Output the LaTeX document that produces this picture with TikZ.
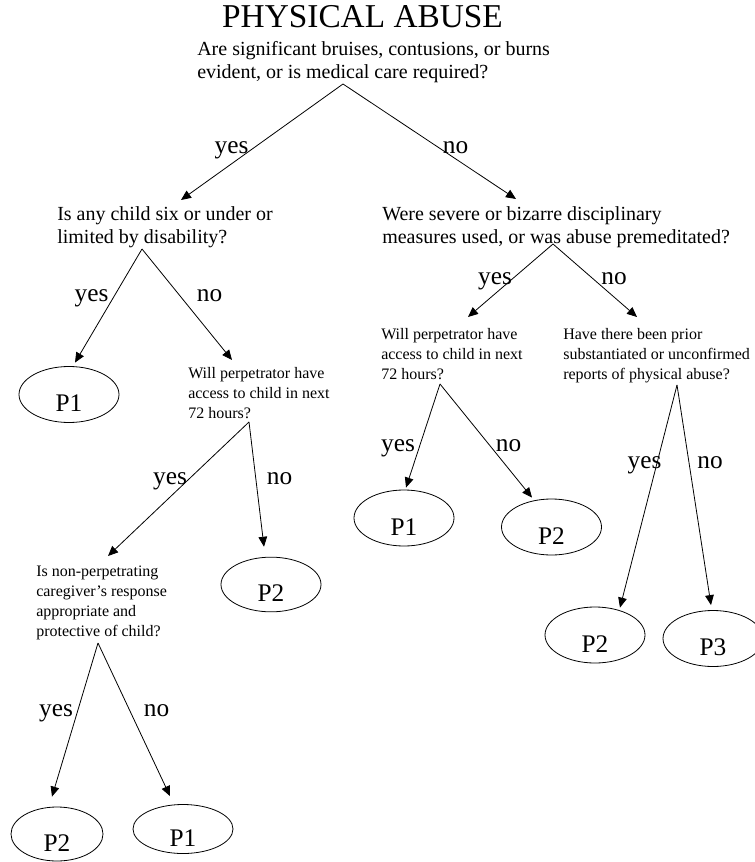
\documentclass[tikz,border=0pt]{standalone}
\usepackage{fontspec}
\setmainfont{Liberation Serif}
\usetikzlibrary{arrows.meta,shapes.geometric}

\tikzset{
  ask/.style={align=left, inner sep=0pt, anchor=north west, font=\fontsize{15}{17.25}\selectfont},
  asksmall/.style={ask, font=\fontsize{12}{15}\selectfont},
  leaf/.style={ellipse, draw, line width=0.6pt, inner sep=0pt, minimum width=75pt, minimum height=42pt,
    text height=26pt, text depth=0pt, font=\fontsize{19}{22}\selectfont},
  ans/.style={anchor=base, inner sep=0pt, font=\fontsize{19}{22}\selectfont},
  arr/.style={-{Triangle[length=7.5pt,width=6.5pt]}, line width=0.6pt},
}

\begin{document}
\begin{tikzpicture}[x=0.75pt, y=0.75pt]
  % page
  \useasboundingbox (0,0) rectangle (755,-862);

  % title
  \node[anchor=base, inner sep=0pt, font=\fontsize{25}{30}\selectfont] (title) at (362.5,-28) {PHYSICAL ABUSE};

  % questions
  \node[ask] (q1) at (197,-41) {Are significant bruises, contusions, or burns\\evident, or is medical care required?};
  \node[ask] (q2l) at (57,-206) {Is any child six or under or\\limited by disability?};
  \node[ask] (q2r) at (382,-206) {Were severe or bizarre disciplinary\\measures used, or was abuse premeditated?};
  \node[asksmall] (q3l) at (188,-367) {Will perpetrator have\\access to child in next\\72 hours?};
  \node[asksmall] (q3a) at (381,-328) {Will perpetrator have\\access to child in next\\72 hours?};
  \node[asksmall] (q3b) at (563,-328) {Have there been prior\\substantiated or unconfirmed\\reports of physical abuse?};
  \node[asksmall] (q4) at (36,-566) {Is non-perpetrating\\caregiver's response\\appropriate and\\protective of child?};

  % priorities
  \node[leaf] (p1a) at (69,-394.5) {P1};
  \node[leaf, minimum height=41pt] (p2a) at (271,-584.5) {P2};
  \node[leaf] (p1b) at (404,-518) {P1};
  \node[leaf] (p2b) at (551.5,-527) {P2};
  \node[leaf] (p2d) at (595,-635) {P2};
  \node[leaf] (p3) at (713,-638.5) {P3};
  \node[leaf, minimum width=69pt, minimum height=40.5pt] (p2c) at (57,-834) {P2};
  \node[leaf, minimum height=36pt] (p1c) at (183,-829) {P1};

  % where the branches leave each question
  \coordinate (q1x) at (343,-84);
  \coordinate (q2lx) at (142,-249);
  \coordinate (q2rx) at (553,-244);
  \coordinate (q3lx) at (249,-422);
  \coordinate (q3ax) at (440,-384);
  \coordinate (q3bx) at (677,-385);
  \coordinate (q4x) at (98,-643);

  % branches
  \draw[arr] (q1x) -- ([shift={(124,6)}]q2l.north west);
  \draw[arr] (q1x) -- ([shift={(134,7)}]q2r.north west);
  \draw[arr] (q2lx) -- ([shift={(6,3.5)}]p1a.north);
  \draw[arr] (q2lx) -- ([shift={(44,7)}]q3l.north west);
  \draw[arr] (q2rx) -- ([shift={(87,11)}]q3a.north west);
  \draw[arr] (q2rx) -- ([shift={(74,11)}]q3b.north west);
  \draw[arr] (q3lx) -- ([shift={(72,10)}]q4.north west);
  \draw[arr] (q3lx) -- ([shift={(-7,10)}]p2a.north);
  \draw[arr] (q3ax) -- ([shift={(2,2)}]p1b.north);
  \draw[arr] (q3ax) -- ([shift={(-19.5,1)}]p2b.north);
  \draw[arr] (q3bx) -- ([shift={(25,-1)}]p2d.north);
  \draw[arr] (q3bx) -- ([shift={(-2,5)}]p3.north);
  \draw[arr] (q4x) -- ([shift={(-5,10)}]p2c.north);
  \draw[arr] (q4x) -- ([shift={(-13,8)}]p1c.north);

  % answers
  \node[ans] (y1) at (231.5,-154) {yes};
  \node[ans] (n1) at (455.5,-154) {no};
  \node[ans] (y2l) at (91.5,-301) {yes};
  \node[ans] (n2l) at (209.5,-301) {no};
  \node[ans] (y2r) at (495,-285) {yes};
  \node[ans] (n2r) at (614,-285) {no};
  \node[ans] (y3l) at (170,-484) {yes};
  \node[ans] (n3l) at (279.5,-484) {no};
  \node[ans] (y3a) at (398,-451) {yes};
  \node[ans] (n3a) at (508.5,-451) {no};
  \node[ans] (y3b) at (644.5,-468) {yes};
  \node[ans] (n3b) at (710,-468) {no};
  \node[ans] (y4) at (56,-716) {yes};
  \node[ans] (n4) at (156.5,-716) {no};
\end{tikzpicture}
\end{document}
